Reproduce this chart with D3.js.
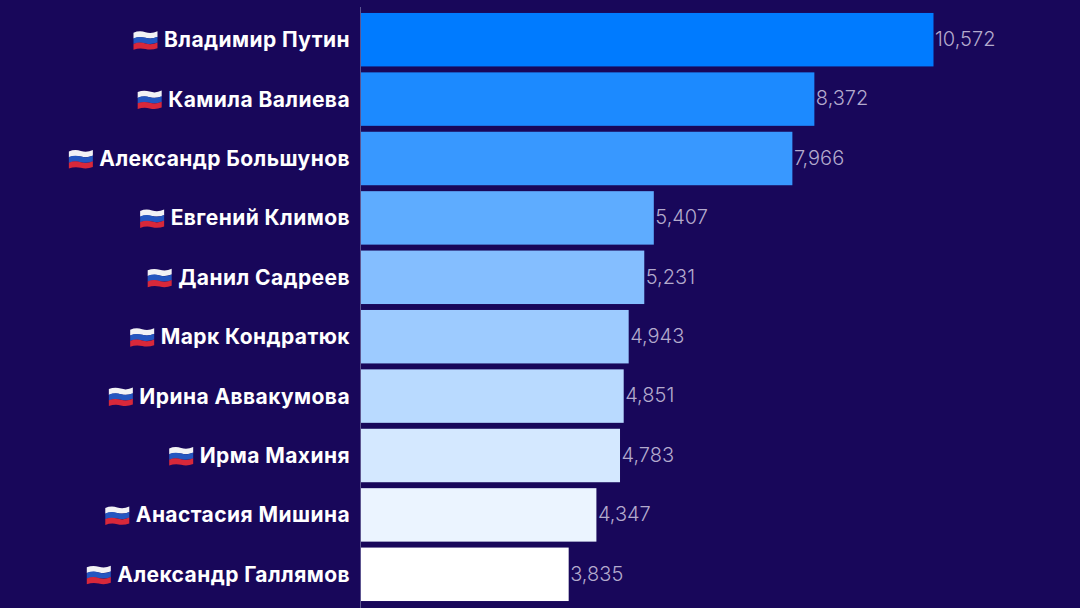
<!DOCTYPE html>
<html><head><meta charset="utf-8">
<script src="https://cdn.jsdelivr.net/npm/d3@7"></script>
<style>
html,body{margin:0;padding:0;background:#18075a;}
svg{display:block}
.name{font-family:Inter,"Open Sans",sans-serif;font-weight:700;font-size:21px;letter-spacing:0.42px;fill:#fff}
.val{font-family:Inter,"Open Sans",sans-serif;font-weight:300;font-size:20px;fill:#b3aacd}
</style></head><body>
<svg id="c" width="1080" height="608"></svg>
<script>
const names=["Владимир Путин","Камила Валиева","Александр Большунов","Евгений Климов","Данил Садреев","Марк Кондратюк","Ирина Аввакумова","Ирма Махиня","Анастасия Мишина","Александр Галлямов"];
const values=[10572,8372,7966,5407,5231,4943,4851,4783,4347,3835];
const barColors=["#007bff","#1c8aff","#3898ff","#5eacff","#84beff","#9dcbff","#b9daff","#d4e8ff","#ebf4ff","#ffffff"];
const flagColors=["#f2f2f5","#2456c0","#d8283a"];

const svg=d3.select("#c");
const x=d3.scaleLinear().domain([0,10572]).range([361,933.5]);
const y=d3.scaleBand().domain(names).range([10,604]).paddingInner(0.1).paddingOuter(0.05);
const bw=y.bandwidth();

svg.append("line").attr("x1",360.5).attr("x2",360.5).attr("y1",7).attr("y2",608)
  .attr("stroke","#5d5590").attr("stroke-width",1);

svg.selectAll("rect.bar").data(names).join("rect").attr("class","bar")
  .attr("x",x(0)).attr("y",d=>y(d)).attr("height",bw)
  .attr("width",(d,i)=>x(values[i])-x(0)).attr("fill",(d,i)=>barColors[i]);

svg.selectAll("text.val").data(names).join("text").attr("class","val")
  .attr("x",(d,i)=>x(values[i])+1.5).attr("y",d=>y(d)+bw/2-1).attr("dy","0.36em")
  .text((d,i)=>d3.format(",")(values[i]));

const labels=svg.selectAll("g.lab").data(names).join("g").attr("class","lab");
labels.append("text").attr("class","name").attr("x",350).attr("y",d=>y(d)+bw/2).attr("dy","0.36em")
  .attr("text-anchor","end").text(d=>d);
labels.each(function(d){
  const g=d3.select(this);
  const tw=g.select("text").node().getComputedTextLength();
  const fx=350-tw-30.5, fy=y(d)+bw/2-8.5, w=24, h=5.6;
  flagColors.forEach((c,k)=>{
    const t=fy+k*h;
    g.append("path").attr("fill",c)
      .attr("d",`M${fx},${t+1.5}Q${fx+6},${t-1} ${fx+12},${t+1}T${fx+w},${t}V${t+h+.2}Q${fx+18},${t+h+2.5} ${fx+12},${t+h+1}T${fx},${t+h+1.7}Z`);
  });
});
</script></body></html>
